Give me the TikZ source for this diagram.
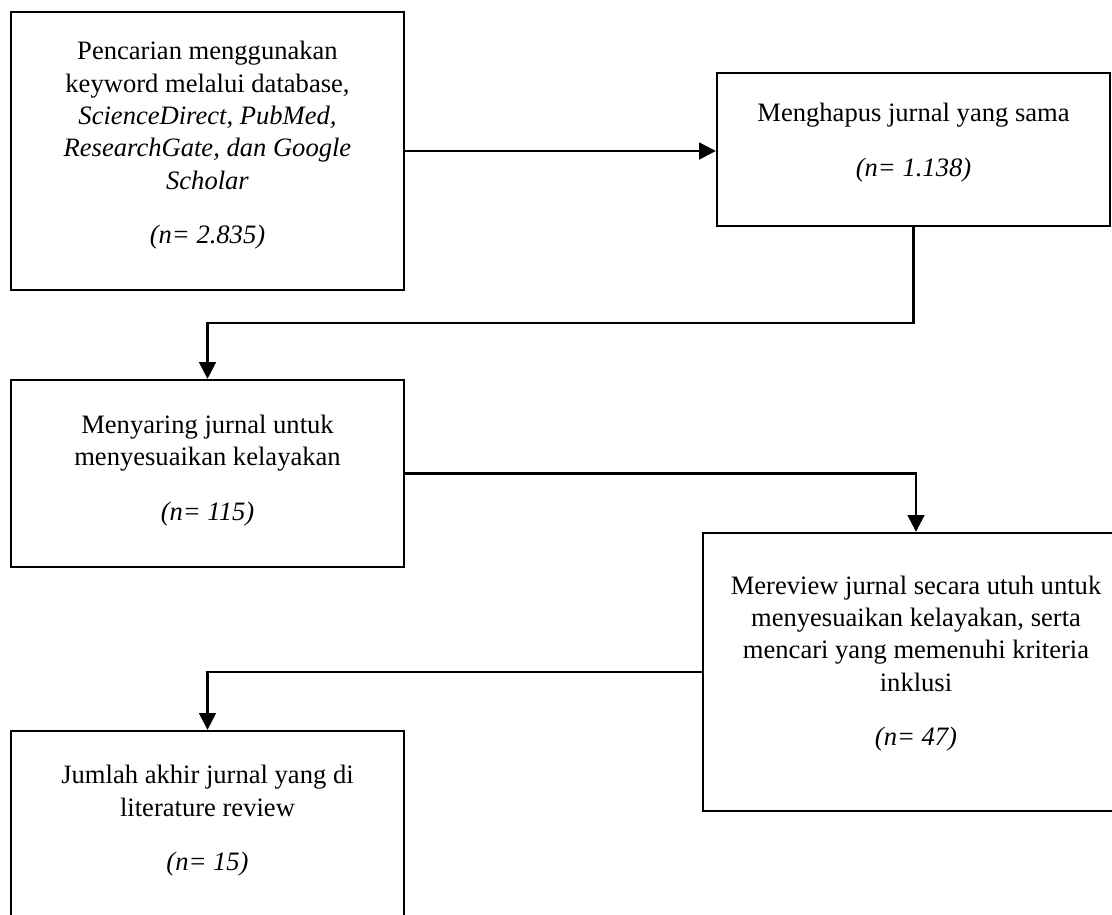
\documentclass[tikz,border=0pt]{standalone}
\usepackage{fontspec}
\setmainfont{Liberation Serif}
\usetikzlibrary{arrows.meta,positioning}

\begin{document}
\begin{tikzpicture}[x=0.4515pt, y=-0.4515pt,
    flowbox/.style={draw, line width=1.1pt, minimum width=177.4pt, inner sep=0pt},
    boxtext/.style={align=center, inner sep=0pt, font=\fontsize{12}{14.6}\selectfont},
    flowarrow/.style={line width=1.1pt, -{Triangle[length=7.5pt, width=7.5pt]}}]
    \useasboundingbox (0,0) rectangle (1112,914);
    \clip (0,0) rectangle (1112,914);
    \fill[white] (0,0) rectangle (1112,914);

    \node[flowbox, minimum height=125.5pt] (search) at (207.5,151) {};
    \node[flowbox, minimum height=69.1pt] (dedup) at (913.5,149.5) {};
    \node[flowbox, minimum height=84.4pt] (screen) at (207.5,473.5) {};
    \node[flowbox, minimum width=192.3pt, minimum height=125.5pt] (fullreview) at (916,672) {};
    \node[flowbox, minimum height=84.4pt] (final) at (207.5,824.5) {};

    \node[boxtext] (search-text) at ([yshift=2.6pt]search.center) {Pencarian menggunakan\\ keyword melalui database,\\ \textit{ScienceDirect, PubMed,}\\ \textit{ResearchGate, dan Google}\\ \textit{Scholar}\\[10pt] \textit{(n= 2.835)}};
    \node[boxtext] (dedup-text) at ([yshift=3.2pt]dedup.center) {Menghapus jurnal yang sama\\[10pt] \textit{(n= 1.138)}};
    \node[boxtext] (screen-text) at ([yshift=1.4pt]screen.center) {Menyaring jurnal untuk\\ menyesuaikan kelayakan\\[10pt] \textit{(n= 115)}};
    \node[boxtext] (fullreview-text) at ([yshift=3.8pt]fullreview.center) {Mereview jurnal secara utuh untuk\\ menyesuaikan kelayakan, serta\\ mencari yang memenuhi kriteria\\ inklusi\\[10pt] \textit{(n= 47)}};
    \node[boxtext] (final-text) at ([yshift=1.6pt]final.center) {Jumlah akhir jurnal yang di\\ literature review\\[10pt] \textit{(n= 15)}};

    \coordinate (turn1) at (207.5,323);
    \draw[flowarrow] (search.east) -- (search.east -| dedup.west);
    \draw[flowarrow] (dedup.south) |- (turn1) -- (screen.north);
    \draw[flowarrow] (screen.east) -| (fullreview.north);
    \draw[flowarrow] (fullreview.west) -| (final.north);
\end{tikzpicture}
\end{document}
